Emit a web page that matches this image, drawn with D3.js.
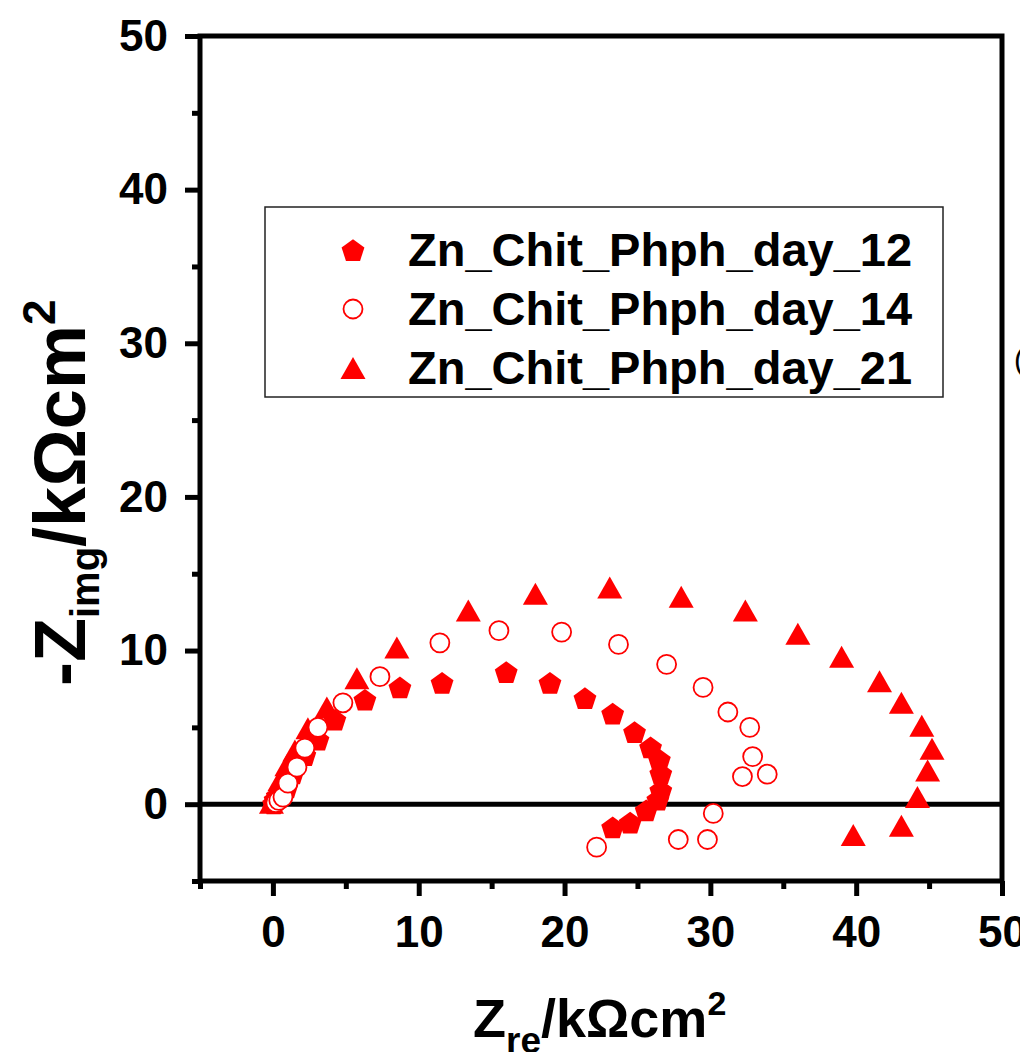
<!DOCTYPE html>
<html>
<head>
<meta charset="utf-8">
<script src="https://cdn.jsdelivr.net/npm/d3@7"></script>
<style>
  html, body { margin: 0; padding: 0; background: #fff; }
  svg { display: block; font-family: "Liberation Sans", Arial, sans-serif; font-weight: bold; }
</style>
</head>
<body>
<div id="chart"></div>
<script>
// series names (legend order)
const seriesNames = ["Zn_Chit_Phph_day_12", "Zn_Chit_Phph_day_14", "Zn_Chit_Phph_day_21"];

// day 12 : Zre, -Zimg (kOhm cm2)
const zre12 = [0.05, 0.15, 0.3, 0.5, 0.96, 1.37, 2.19, 3.09, 4.25, 6.31, 8.71, 11.6, 16.0, 19.0, 21.4, 23.3, 24.8, 25.9, 26.5, 26.6, 26.6, 26.4, 25.6, 24.5, 23.3];
const zim12 = [0.05, 0.3, 0.55, 0.8, 1.1, 2.0, 3.2, 4.2, 5.5, 6.8, 7.6, 7.9, 8.6, 7.9, 6.9, 5.9, 4.7, 3.7, 2.9, 2.0, 0.9, 0.3, -0.4, -1.2, -1.5];

// day 14
const zre14 = [0.2, 0.4, 0.69, 1.03, 1.65, 2.19, 3.09, 4.8, 7.34, 11.45, 15.5, 19.8, 23.7, 27.0, 29.5, 31.2, 32.7, 32.9, 33.9, 32.2, 30.2, 29.8, 27.8, 22.2];
const zim14 = [0.1, 0.25, 0.46, 1.37, 2.41, 3.65, 5.0, 6.6, 8.3, 10.5, 11.3, 11.2, 10.4, 9.1, 7.6, 6.0, 5.0, 3.1, 1.95, 1.8, -0.6, -2.3, -2.3, -2.8];

// day 21
const zre21 = [-0.1, 0.1, 0.3, 0.48, 0.96, 1.51, 2.4, 3.7, 5.76, 8.5, 13.4, 18.0, 23.1, 28.0, 32.4, 36.0, 39.0, 41.6, 43.1, 44.5, 45.2, 44.9, 44.2, 43.1, 39.8];
const zim21 = [0.1, 0.5, 1.0, 1.56, 2.54, 3.5, 4.95, 6.3, 8.2, 10.2, 12.6, 13.7, 14.1, 13.5, 12.6, 11.1, 9.6, 8.0, 6.6, 5.1, 3.6, 2.2, 0.46, -1.4, -2.0];

const majorTicks = [0, 10, 20, 30, 40, 50];
const minorTicks = [-5, 5, 15, 25, 35, 45];

const red = "#ff0000";

// marker shapes
function pentagonPath(r) {
    const pts = d3.range(5).map(i => {
        const a = -Math.PI / 2 + i * 2 * Math.PI / 5;
        return [r * Math.cos(a), r * Math.sin(a) + r * 0.1];
    });
    return "M" + pts.map(p => p.join(",")).join("L") + "Z";
}
function trianglePath(b, h) {
    return `M0,${-h / 2}L${b / 2},${h / 2}L${-b / 2},${h / 2}Z`;
}

const series = [
    { name: seriesNames[2], re: zre21, im: zim21, shape: "tri" },
    { name: seriesNames[0], re: zre12, im: zim12, shape: "pent" },
    { name: seriesNames[1], re: zre14, im: zim14, shape: "circ" }
];

function drawMarker(sel, shape) {
    if (shape === "circ") {
        sel.append("circle").attr("r", 9.5)
            .attr("fill", "#fff").attr("stroke", red).attr("stroke-width", 1.8);
    } else if (shape === "pent") {
        sel.append("path").attr("d", pentagonPath(12)).attr("fill", red);
    } else {
        sel.append("path").attr("d", trianglePath(25, 22)).attr("fill", red);
    }
}

const svg = d3.select("#chart").append("svg")
    .attr("width", 1020)
    .attr("height", 1052);

const x = d3.scaleLinear().domain([-5, 50]).range([200, 1002]);
const y = d3.scaleLinear().domain([-5, 50]).range([881, 36]);

// zero line
svg.append("line")
    .attr("x1", x(-5)).attr("x2", x(50))
    .attr("y1", y(0)).attr("y2", y(0))
    .attr("stroke", "#000").attr("stroke-width", 5);

// axes
const xAxis = svg.append("g")
    .attr("transform", `translate(0,${y(-5)})`)
    .call(d3.axisBottom(x).tickValues(majorTicks).tickSize(15).tickSizeOuter(0).tickPadding(20));
const xMinor = svg.append("g")
    .attr("transform", `translate(0,${y(-5)})`)
    .call(d3.axisBottom(x).tickValues(minorTicks).tickSize(8).tickSizeOuter(0).tickFormat(""));
const yAxis = svg.append("g")
    .attr("transform", `translate(${x(-5)},0)`)
    .call(d3.axisLeft(y).tickValues(majorTicks).tickSize(15).tickSizeOuter(0).tickPadding(17));
const yMinor = svg.append("g")
    .attr("transform", `translate(${x(-5)},0)`)
    .call(d3.axisLeft(y).tickValues(minorTicks).tickSize(8).tickSizeOuter(0).tickFormat(""));

[xAxis, xMinor, yAxis, yMinor].forEach(g => {
    g.select(".domain").remove();
    g.selectAll(".tick line").attr("stroke", "#000").attr("stroke-width", 5);
    g.selectAll(".tick text")
        .attr("fill", "#000")
        .style("font-family", '"Liberation Sans", Arial, sans-serif')
        .style("font-weight", "bold")
        .style("font-size", "44px");
});

// frame
svg.append("rect")
    .attr("x", x(-5)).attr("y", y(50))
    .attr("width", x(50) - x(-5)).attr("height", y(-5) - y(50))
    .attr("fill", "none").attr("stroke", "#000").attr("stroke-width", 5);

// data points
series.forEach(s => {
    const pts = s.re.map((v, i) => ({ re: v, im: s.im[i] }));
    const g = svg.append("g");
    const m = g.selectAll("g").data(pts).join("g")
        .attr("transform", d => `translate(${x(d.re)},${y(d.im)})`);
    drawMarker(m, s.shape);
});

// legend
const legend = svg.append("g");
legend.append("rect")
    .attr("x", 265).attr("y", 207).attr("width", 678).attr("height", 190)
    .attr("fill", "#fff").attr("stroke", "#222").attr("stroke-width", 1.5);
const legendItems = [
    { name: seriesNames[0], shape: "pent" },
    { name: seriesNames[1], shape: "circ" },
    { name: seriesNames[2], shape: "tri" }
];
legendItems.forEach((d, i) => {
    const cy = 250 + i * 59;
    const mk = legend.append("g").attr("transform", `translate(353,${cy})`);
    drawMarker(mk, d.shape);
    legend.append("text")
        .attr("x", 408).attr("y", cy + 16)
        .style("font-size", "47px")
        .text(d.name);
});

// axis titles
const xt = svg.append("text")
    .attr("x", 473).attr("y", 1037)
    .style("font-size", "54px");
xt.append("tspan").text("Z");
xt.append("tspan").attr("dy", 16).style("font-size", "37px").text("re");
xt.append("tspan").attr("dy", -16).text("/k\u03A9cm");
xt.append("tspan").attr("dy", -22).style("font-size", "34px").text("2");

const yt = svg.append("text")
    .attr("transform", "translate(85,686) rotate(-90)")
    .style("font-size", "72px");
yt.append("tspan").text("-Z");
yt.append("tspan").attr("dy", 14).style("font-size", "40px").text("img");
yt.append("tspan").attr("dy", -14).text("/k\u03A9cm");
yt.append("tspan").attr("dy", -30).style("font-size", "46px").text("2");

// cropped stray glyph at the right edge
svg.append("text")
    .attr("x", 1014).attr("y", 370)
    .style("font-size", "30px").style("font-weight", "normal")
    .attr("fill", "#000")
    .text("(");
</script>
</body>
</html>
